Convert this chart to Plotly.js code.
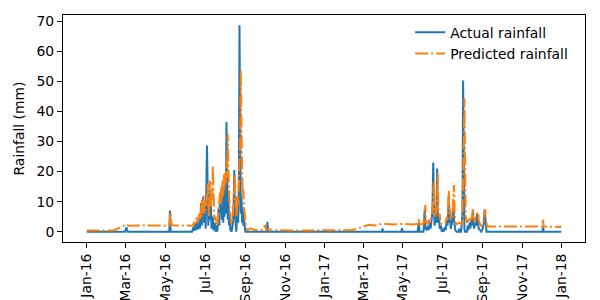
<!DOCTYPE html>
<html>
<head>
<meta charset="utf-8">
<script src="https://cdn.plot.ly/plotly-3.0.1.min.js"></script>
<style>html,body{margin:0;padding:0;background:#fff;}#chart{width:600px;height:300px;}</style>
</head>
<body>
<div id="chart"></div>
<script>
// ---- data ----
const actualDate = [
"2016-01-01","2016-02-29","2016-03-02","2016-03-04","2016-05-07","2016-05-08","2016-05-09",
"2016-06-11","2016-06-13","2016-06-14","2016-06-16","2016-06-17","2016-06-19","2016-06-20","2016-06-22","2016-06-23",
"2016-06-25","2016-06-26","2016-06-28","2016-06-29","2016-07-01","2016-07-02","2016-07-04","2016-07-05","2016-07-06",
"2016-07-08","2016-07-09","2016-07-10","2016-07-11","2016-07-13","2016-07-14","2016-07-16","2016-07-17","2016-07-19",
"2016-07-20","2016-07-22","2016-07-23","2016-07-24","2016-07-25","2016-07-26","2016-07-27","2016-07-28","2016-07-29",
"2016-07-30","2016-07-31","2016-08-01","2016-08-02","2016-08-03","2016-08-04","2016-08-05","2016-08-06","2016-08-07",
"2016-08-08","2016-08-09","2016-08-11","2016-08-12","2016-08-13","2016-08-14","2016-08-15","2016-08-16","2016-08-17",
"2016-08-18","2016-08-19","2016-08-20","2016-08-21","2016-08-22","2016-08-23","2016-08-24","2016-08-25","2016-08-26",
"2016-08-27","2016-08-28","2016-08-29","2016-08-30","2016-08-31","2016-09-01","2016-10-04","2016-10-05","2016-10-06",
"2017-03-30","2017-03-31","2017-04-01","2017-04-29","2017-04-30","2017-05-01","2017-05-24","2017-05-26","2017-05-27",
"2017-06-02","2017-06-04","2017-06-05","2017-06-07","2017-06-09","2017-06-10","2017-06-12","2017-06-13","2017-06-15",
"2017-06-16","2017-06-17","2017-06-18","2017-06-19","2017-06-20","2017-06-21","2017-06-22","2017-06-23","2017-06-24",
"2017-06-25","2017-06-26","2017-06-27","2017-06-29","2017-06-30","2017-07-02","2017-07-03","2017-07-05","2017-07-06",
"2017-07-08","2017-07-09","2017-07-10","2017-07-11","2017-07-12","2017-07-13","2017-07-14","2017-07-16","2017-07-17",
"2017-07-18","2017-07-19","2017-07-20","2017-07-21","2017-07-23","2017-07-26","2017-07-27","2017-07-28","2017-07-30",
"2017-07-31","2017-08-01","2017-08-02","2017-08-03","2017-08-04","2017-08-05","2017-08-08","2017-08-09","2017-08-10",
"2017-08-12","2017-08-13","2017-08-15","2017-08-16","2017-08-17","2017-08-18","2017-08-19","2017-08-21","2017-08-22",
"2017-08-23","2017-08-24","2017-08-25","2017-08-26","2017-08-28","2017-08-30","2017-09-01","2017-09-03","2017-09-04",
"2017-09-05","2017-09-06","2017-09-07","2017-12-02","2017-12-03","2017-12-04","2017-12-31"
];
const actualMm = [
0,0,1.5,0,0,7.0,0,
0,1.5,0.3,2.5,0.5,3.5,0.8,4.5,1,
9.5,2,11.5,3,6,1,28.7,8,2,
14,4,10,1,5,0.5,3,0,2,
0,8,2,12,6,14,4,10,3,
15,5,18,6,36.5,10,4,12,2,
6,0.5,0,1,3,8,20.5,6,1,
0,4,10,3,15,68.7,18,6,12,
3,8,2,4,0.5,0,0,3.3,0,
0,1.1,0,0,1.2,0,0,3,0,
0,7.5,1,0.5,2,0.5,3,1,5,
9,23,6,2,4,8,3,21,7,
3,5,1,2,0,1,0,1.5,0.5,
4,2,6,12.2,3,5,1,3,6,
9,4,2,0.5,0,0,1,0,0,
2,6,50.3,5,1,0,0,2,0.5,
3,1,4,2,7,3,1,4,2,
5,6,3,1,0.5,0,1,3,7.4,
4,1,0,0,1.5,0,0
];

const predDate = [
"2016-01-01","2016-01-20","2016-02-05","2016-02-12","2016-02-18","2016-02-24","2016-03-02","2016-03-05","2016-03-20",
"2016-04-15","2016-05-07","2016-05-09","2016-05-10","2016-05-12","2016-06-12","2016-06-14","2016-06-16","2016-06-18",
"2016-06-20","2016-06-22","2016-06-24","2016-06-26","2016-06-27","2016-06-29","2016-06-30","2016-07-02","2016-07-04",
"2016-07-05","2016-07-06","2016-07-07","2016-07-08","2016-07-09","2016-07-10","2016-07-12","2016-07-13","2016-07-14",
"2016-07-15","2016-07-16","2016-07-17","2016-07-18","2016-07-19","2016-07-20","2016-07-21","2016-07-22","2016-07-23",
"2016-07-24","2016-07-25","2016-07-26","2016-07-27","2016-07-28","2016-07-29","2016-07-30","2016-07-31","2016-08-01",
"2016-08-02","2016-08-03","2016-08-04","2016-08-05","2016-08-06","2016-08-07","2016-08-08","2016-08-09","2016-08-10",
"2016-08-11","2016-08-12","2016-08-13","2016-08-14","2016-08-15","2016-08-16","2016-08-17","2016-08-18","2016-08-19",
"2016-08-20","2016-08-21","2016-08-22","2016-08-23","2016-08-24","2016-08-25","2016-08-26","2016-08-27","2016-08-28",
"2016-08-29","2016-08-30","2016-08-31","2016-09-01","2016-09-02","2016-09-03","2016-09-04","2016-09-10","2016-09-15",
"2016-09-28","2016-10-01","2016-10-03","2016-10-20","2016-11-15","2016-12-20","2017-01-20","2017-02-10","2017-02-20",
"2017-03-01","2017-03-10","2017-03-20","2017-04-01","2017-04-15","2017-05-01","2017-05-15","2017-05-25","2017-05-26",
"2017-05-27","2017-06-02","2017-06-05","2017-06-06","2017-06-08","2017-06-10","2017-06-12","2017-06-14","2017-06-16",
"2017-06-17","2017-06-18","2017-06-19","2017-06-20","2017-06-21","2017-06-22","2017-06-23","2017-06-24","2017-06-25",
"2017-06-26","2017-06-27","2017-06-28","2017-06-30","2017-07-03","2017-07-06","2017-07-08","2017-07-09","2017-07-10",
"2017-07-11","2017-07-12","2017-07-13","2017-07-14","2017-07-16","2017-07-17","2017-07-18","2017-07-19","2017-07-20",
"2017-07-21","2017-07-23","2017-07-27","2017-07-30","2017-07-31","2017-08-01","2017-08-02","2017-08-03","2017-08-04",
"2017-08-05","2017-08-06","2017-08-08","2017-08-09","2017-08-11","2017-08-12","2017-08-14","2017-08-16","2017-08-17",
"2017-08-18","2017-08-20","2017-08-21","2017-08-23","2017-08-25","2017-08-26","2017-08-28","2017-08-30","2017-09-02",
"2017-09-04","2017-09-05","2017-09-06","2017-09-08","2017-10-15","2017-11-20","2017-12-02","2017-12-03","2017-12-04",
"2017-12-31"
];
const predMm = [
0.4,0.3,0.4,0.5,1.0,1.6,2.5,2.0,2.1,
2.0,2.0,6.5,3,2.1,2.0,3,2.5,5,
3,6,4,11,5,12,6,8,11,
16,10,5,13,17,8,12,22,9,
6,4,5,2.5,3,2,4,7,10,
13,9,15,11,17,12,19,14,20,
16,24,18,32.3,17,12,8,5,3,
2.5,4,6,12,14,19,9,5,7,
12,9,18,20,30,54,28.5,20,12,
14,8,5,3,2,1,0.6,1.1,0.6,
0.6,2.2,0.8,0.5,0.4,0.4,0.4,0.5,1.0,
1.6,2.3,2.1,2.7,2.4,2.6,2.4,2.6,4.4,
2.5,2.5,8.9,3,2.5,4,3,5,7,
12,16.5,6,5,9,6,11,19.4,8,
5,6,3,2.5,2.5,3,5,4,8,
13.9,6,7,4,5,8,11,15.5,6,
3,2.5,3,2.5,3,5,14,30,44.4,
12,5,3,4,3,5,4,5,7.8,
5,3,5,6,6.5,4,2.5,2,3,
6,7.4,4,1.7,1.7,1.6,1.7,3.9,1.7,
1.6
];

const tickDates = ["2016-01-01","2016-03-01","2016-05-01","2016-07-01","2016-09-01","2016-11-01",
"2017-01-01","2017-03-01","2017-05-01","2017-07-01","2017-09-01","2017-11-01","2018-01-01"];
const tickLabels = ["Jan-16","Mar-16","May-16","Jul-16","Sep-16","Nov-16",
"Jan-17","Mar-17","May-17","Jul-17","Sep-17","Nov-17","Jan-18"];
const yTicks = [0,10,20,30,40,50,60,70];

const FONT = "DejaVu Sans, sans-serif";
const traces = [
  {x: actualDate, y: actualMm, type: "scatter", mode: "lines", name: "Actual rainfall",
   line: {color: "#1f77b4", width: 2}},
  {x: predDate, y: predMm, type: "scatter", mode: "lines", name: "Predicted rainfall",
   line: {color: "#ff7f0e", width: 2, dash: "13px,3px,2px,3px"}}
];
const layout = {
  width: 600, height: 300,
  margin: {l: 63, r: 15, t: 15, b: 58},
  paper_bgcolor: "#fff", plot_bgcolor: "#fff",
  font: {family: FONT, size: 13.9, color: "#000"},
  showlegend: true,
  legend: {x: 0.665, y: 0.992, xanchor: "left", yanchor: "top", bgcolor: "rgba(0,0,0,0)",
           font: {family: FONT, size: 13.9}, itemwidth: 30, tracegroupgap: 0},
  xaxis: {type: "date", range: ["2015-11-25 12:00", "2018-02-05 12:00"],
          tickmode: "array", tickvals: tickDates, ticktext: tickLabels, tickangle: -90,
          ticks: "outside", ticklen: 5, tickcolor: "#000", showgrid: false, zeroline: false,
          showline: true, mirror: true, linecolor: "#000", linewidth: 1,
          tickfont: {family: FONT, size: 13.9}},
  yaxis: {range: [-3.43, 72.1], tickmode: "array", tickvals: yTicks,
          ticks: "outside", ticklen: 5, tickcolor: "#000", showgrid: false, zeroline: false,
          showline: true, mirror: true, linecolor: "#000", linewidth: 1,
          title: {text: "Rainfall (mm)", font: {family: FONT, size: 13.9}, standoff: 8},
          tickfont: {family: FONT, size: 13.9}}
};
Plotly.newPlot("chart", traces, layout, {staticPlot: true, displayModeBar: false});
</script>
</body>
</html>
